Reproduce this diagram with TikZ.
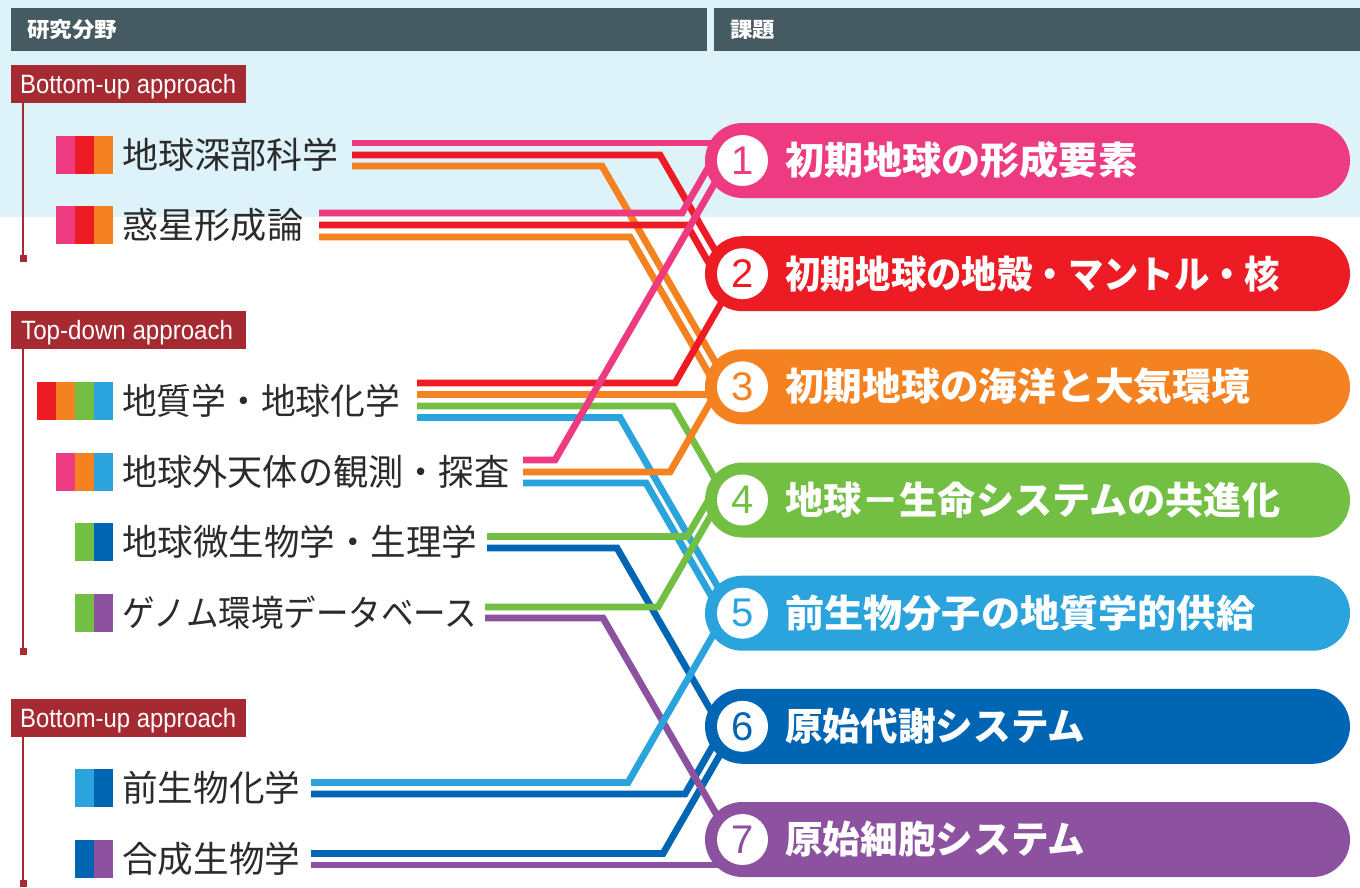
\documentclass[tikz,border=0pt]{standalone}
\usepackage{fontspec}
\usepackage{graphicx}
\setmainfont{Liberation Sans}
\newfontfamily\jp{Noto Sans CJK JP}
\usetikzlibrary{calc}
\definecolor{cPink}{HTML}{EE3A81}
\definecolor{cRed}{HTML}{ED1C24}
\definecolor{cOrange}{HTML}{F58220}
\definecolor{cGreen}{HTML}{72BF44}
\definecolor{cLblue}{HTML}{2BA3DC}
\definecolor{cDblue}{HTML}{0066B3}
\definecolor{cPurple}{HTML}{8C52A0}
\definecolor{cHdr}{HTML}{455A61}
\definecolor{cBox}{HTML}{A52A31}
\definecolor{cBg}{HTML}{DEF2FA}
\definecolor{cTxt}{HTML}{2B2B2B}
\newcommand\fitw[2]{\resizebox{#1pt}{\height}{#2}}
\newcommand\sqr[3]{\fill[#1] (#2,#3-19) rectangle +(19,38);}
\begin{document}
\begin{tikzpicture}[x=1pt,y=-1pt,
  route/.style={line width=6.8pt},
  hdrtext/.style={anchor=west,inner sep=0pt,text=white,font={\jp\bfseries\fontsize{21pt}{24pt}\selectfont}},
  apbox/.style={fill=cBox,minimum width=235pt,minimum height=38pt,inner sep=0pt},
  aptext/.style={anchor=base west,inner sep=0pt,text=white,font={\fontsize{26.5pt}{28pt}\selectfont}},
  apline/.style={draw=cBox,line width=2.2pt},
  ltext/.style={anchor=west,inner sep=0pt,text=cTxt,font={\jp\fontsize{36pt}{40pt}\selectfont}},
  numc/.style={circle,fill=white,minimum size=51pt,inner sep=0pt,font={\fontsize{40pt}{40pt}\selectfont}},
  ptext/.style={anchor=west,inner sep=0pt,text=white,font={\jp\bfseries\fontsize{38pt}{42pt}\selectfont}}
]
\useasboundingbox (0,0) rectangle (1360,887);
% background band and headers
\fill[cBg] (0,0) rectangle (1360,217);
\fill[cHdr] (11,8) rectangle (707,51);
\fill[cHdr] (714,8) rectangle (1360,51);
\node[hdrtext] (H1) at (27,29.5) {\fitw{90}{研究分野}};
\node[hdrtext] (H2) at (730,29.5) {\fitw{45}{課題}};

% approach boxes
\node[apbox] (B1) at (128.5,84) {};
\node[aptext] (B1t) at (20,93.3) {\fitw{216}{Bottom-up approach}};
\node[apbox] (B2) at (128.5,330) {};
\node[aptext] (B2t) at (21,339.3) {\fitw{212}{Top-down approach}};
\node[apbox] (B3) at (128.5,718) {};
\node[aptext] (B3t) at (20,727.3) {\fitw{216}{Bottom-up approach}};
\coordinate (v1) at (23,258.5);
\coordinate (v2) at (23,651.5);
\coordinate (v3) at (23,883.5);
\draw[apline] (v1 |- B1.south) -- (v1);
\draw[apline] (v2 |- B2.south) -- (v2);
\draw[apline] (v3 |- B3.south) -- (v3);
\fill[cBox] (v1) ++(-3.5,-3.5) rectangle ++(7,7);
\fill[cBox] (v2) ++(-3.5,-3.5) rectangle ++(7,7);
\fill[cBox] (v3) ++(-3.5,-3.5) rectangle ++(7,7);

% colour squares
\sqr{cPink}{56}{155}\sqr{cRed}{75}{155}\sqr{cOrange}{94}{155}
\sqr{cPink}{56}{225}\sqr{cRed}{75}{225}\sqr{cOrange}{94}{225}
\sqr{cRed}{37}{400.5}\sqr{cOrange}{56}{400.5}\sqr{cGreen}{75}{400.5}\sqr{cLblue}{94}{400.5}
\sqr{cPink}{56}{472}\sqr{cOrange}{75}{472}\sqr{cLblue}{94}{472}
\sqr{cGreen}{75}{542}\sqr{cDblue}{94}{542}
\sqr{cGreen}{75}{613}\sqr{cPurple}{94}{613}
\sqr{cLblue}{75}{788}\sqr{cDblue}{94}{788}
\sqr{cDblue}{75}{859}\sqr{cPurple}{94}{859}

% left labels
\node[ltext] (L1) at (122,155) {\fitw{216}{地球深部科学}};
\node[ltext] (L2) at (122,225) {\fitw{181}{惑星形成論}};
\node[ltext] (L3) at (122,400.5) {\fitw{278}{地質学・地球化学}};
\node[ltext] (L4) at (122,472) {\fitw{387}{地球外天体の観測・探査}};
\node[ltext] (L5) at (122,542) {\fitw{355}{地球微生物学・生理学}};
\node[ltext] (L6) at (122,613) {\fitw{355}{ゲノム環境データベース}};
\node[ltext] (L7) at (122,788) {\fitw{178}{前生物化学}};
\node[ltext] (L8) at (122,859) {\fitw{178}{合成生物学}};

% pill centres
\coordinate (c1) at (742.5,160.5);
\coordinate (c2) at (742.5,273.7);
\coordinate (c3) at (742.5,386.8);
\coordinate (c4) at (742.5,500);
\coordinate (c5) at (742.5,613.2);
\coordinate (c6) at (742.5,726.3);
\coordinate (c7) at (742.5,839.5);

% line starts
\coordinate (a1) at (352,143);   \coordinate (a2) at (352,155);   \coordinate (a3) at (352,166);
\coordinate (b1) at (319,213);   \coordinate (b2) at (319,225);   \coordinate (b3) at (319,237);
\coordinate (k1) at (417,383);   \coordinate (k2) at (417,394.5); \coordinate (k3) at (417,406); \coordinate (k4) at (417,417.5);
\coordinate (d1) at (523,460);   \coordinate (d2) at (523,472);   \coordinate (d3) at (523,483);
\coordinate (e1) at (487,536.5); \coordinate (e2) at (487,548);
\coordinate (f1) at (485,607);   \coordinate (f2) at (485,618);
\coordinate (g1) at (311,782.5); \coordinate (g2) at (311,794);
\coordinate (h1) at (311,853.5); \coordinate (h2) at (311,865);

% routes (bottom to top)
\draw[route,cDblue] (e2) -- (617,548) -- ($(c6)+(-22.5,0)$);
\draw[route,cDblue] (g2) -- (685,794) -- ($(c6)+(-18.4,0)$);
\draw[route,cDblue] (h1) -- (663,853.5) -- ($(c6)+(-6.1,0)$);
\draw[route,cPurple] (f2) -- (603,618) -- ($(c7)+(-11.6,0)$);
\draw[route,cPurple] (h2) -- ($(c7)+(-12,25.5)$);
\draw[route,cLblue] (k4) -- (620,417.5) -- ($(c5)+(-9.5,0)$);
\draw[route,cLblue] (d3) -- (646,483) -- ($(c5)+(-21.3,0)$);
\draw[route,cLblue] (g1) -- (628,782.5) -- ($(c5)+(-16.8,0)$);
\draw[route,cGreen] (k3) -- (673,406) -- ($(c4)+(-15.2,0)$);
\draw[route,cGreen] (e1) -- (687,536.5) -- ($(c4)+(-34,0)$);
\draw[route,cGreen] (f1) -- (658,607) -- ($(c4)+(-22.7,0)$);
\draw[route,cOrange] (a3) -- (602,166) -- ($(c3)+(-13,0)$);
\draw[route,cOrange] (b3) -- (630,237) -- ($(c3)+(-26,0)$);
\draw[route,cOrange] (k2) -- ($(c3)+(-12,7.7)$);
\draw[route,cOrange] (d2) -- (670,472) -- ($(c3)+(-23.3,0)$);
\draw[route,cRed] (a2) -- (660,155) -- ($(c2)+(-14,0)$);
\draw[route,cRed] (b2) -- (687,225) -- ($(c2)+(-27.5,0)$);
\draw[route,cRed] (k1) -- (675,383) -- ($(c2)+(-4.4,0)$);
\draw[route,cPink] (a1) -- ($(c1)+(-12,-17.5)$);
\draw[route,cPink] (b1) -- (682,213) -- ($(c1)+(-30.2,0)$);
\draw[route,cPink] (d1) -- (555,460) -- ($(c1)+(-14.6,0)$);

% pills
\fill[cPink,rounded corners=37.5pt] (705,123) rectangle (1350,198);
\node[numc,text=cPink] (N1) at (c1) {1};
\node[ptext] (T1) at (785,160.5) {\fitw{352}{初期地球の形成要素}};
\fill[cRed,rounded corners=37.5pt] (705,236.2) rectangle (1350,311.2);
\node[numc,text=cRed] (N2) at (c2) {2};
\node[ptext] (T2) at (785,273.7) {\fitw{495}{初期地球の地殻・マントル・核}};
\fill[cOrange,rounded corners=37.5pt] (705,349.3) rectangle (1350,424.3);
\node[numc,text=cOrange] (N3) at (c3) {3};
\node[ptext] (T3) at (785,386.8) {\fitw{465}{初期地球の海洋と大気環境}};
\fill[cGreen,rounded corners=37.5pt] (705,462.5) rectangle (1350,537.5);
\node[numc,text=cGreen] (N4) at (c4) {4};
\node[ptext] (T4) at (785,500) {\fitw{495}{地球－生命システムの共進化}};
\fill[cLblue,rounded corners=37.5pt] (705,575.7) rectangle (1350,650.7);
\node[numc,text=cLblue] (N5) at (c5) {5};
\node[ptext] (T5) at (785,613.2) {\fitw{470}{前生物分子の地質学的供給}};
\fill[cDblue,rounded corners=37.5pt] (705,688.8) rectangle (1350,763.8);
\node[numc,text=cDblue] (N6) at (c6) {6};
\node[ptext] (T6) at (785,726.3) {\fitw{300}{原始代謝システム}};
\fill[cPurple,rounded corners=37.5pt] (705,802) rectangle (1350,877);
\node[numc,text=cPurple] (N7) at (c7) {7};
\node[ptext] (T7) at (785,839.5) {\fitw{300}{原始細胞システム}};
\end{tikzpicture}
\end{document}
